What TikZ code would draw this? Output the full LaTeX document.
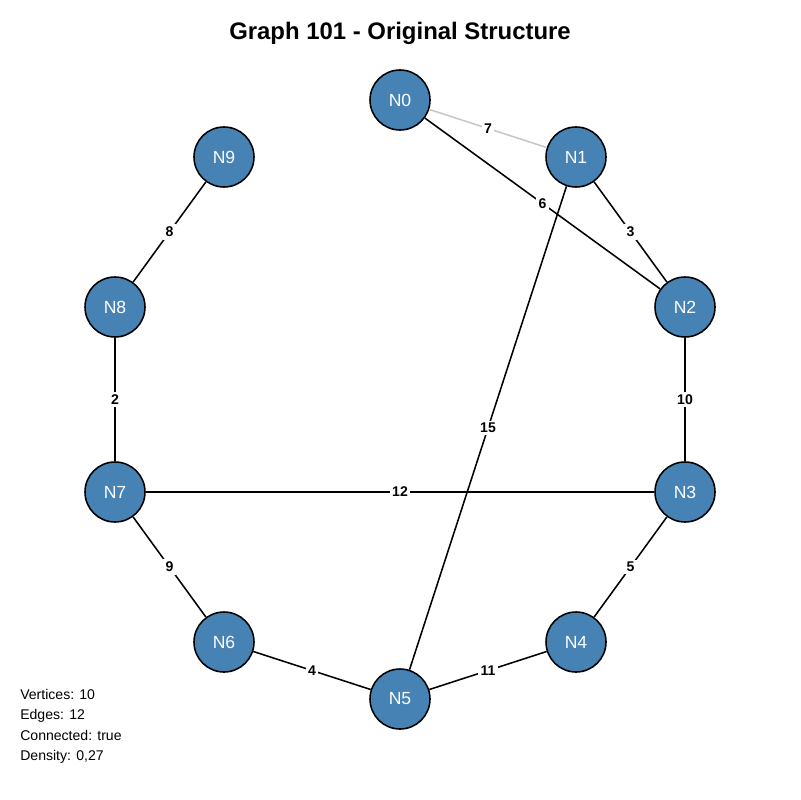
\documentclass[tikz,border=0pt]{standalone}
\usepackage{fontspec}
\setmainfont{Liberation Sans}
\begin{document}
\begin{tikzpicture}[x=0.025cm,y=-0.025cm,
  vtx/.style={circle,draw=black,line width=1.1pt,fill=nodeblue,minimum size=1.5cm,inner sep=0pt,text=white,font=\fontsize{12.5}{14}\selectfont},
  edge/.style={line width=1.1pt,draw=black},
  lightedge/.style={line width=1.1pt,draw=black!22},
  elabel/.style={fill=white,inner sep=1.8pt,font=\bfseries\fontsize{10}{12}\selectfont},
  stat/.style={anchor=base west,inner sep=0pt,font=\fontsize{10}{12}\selectfont}]
\definecolor{nodeblue}{HTML}{4682B4}
\useasboundingbox (0,0) rectangle (800,800);
\node[font=\bfseries\fontsize{17}{20}\selectfont] (title) at (400,33) {Graph 101 - Original Structure};
\node[vtx] (N0) at (400,100) {N0};
\node[vtx] (N1) at (576,157) {N1};
\node[vtx] (N2) at (685,307) {N2};
\node[vtx] (N3) at (685,492) {N3};
\node[vtx] (N4) at (576,642) {N4};
\node[vtx] (N5) at (400,699) {N5};
\node[vtx] (N6) at (224,642) {N6};
\node[vtx] (N7) at (115,492) {N7};
\node[vtx] (N8) at (115,307) {N8};
\node[vtx] (N9) at (224,157) {N9};
\draw[lightedge] (N0) -- node[elabel]{7} (N1);
\draw[edge] (N0) -- node[elabel]{6} (N2);
\draw[edge] (N1) -- node[elabel]{3} (N2);
\draw[edge] (N1) -- node[elabel]{15} (N5);
\draw[edge] (N2) -- node[elabel]{10} (N3);
\draw[edge] (N3) -- node[elabel]{5} (N4);
\draw[edge] (N3) -- node[elabel]{12} (N7);
\draw[edge] (N4) -- node[elabel]{11} (N5);
\draw[edge] (N5) -- node[elabel]{4} (N6);
\draw[edge] (N6) -- node[elabel]{9} (N7);
\draw[edge] (N7) -- node[elabel]{2} (N8);
\draw[edge] (N8) -- node[elabel]{8} (N9);
\node[stat] (s1) at (20,699) {Vertices: 10};
\node[stat] (s2) at (20,719.5) {Edges: 12};
\node[stat] (s3) at (20,740) {Connected: true};
\node[stat] (s4) at (20,760.5) {Density: 0,27};
\end{tikzpicture}
\end{document}
